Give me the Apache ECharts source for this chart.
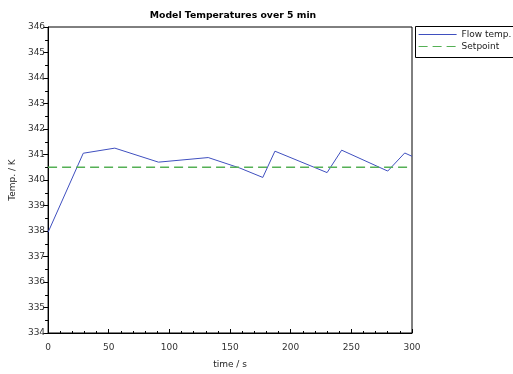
<!DOCTYPE html>
<html><head><meta charset="utf-8">
<script src="https://cdn.jsdelivr.net/npm/echarts@6/dist/echarts.min.js"></script>
<style>html,body{margin:0;padding:0;background:#fff}#c{width:513px;height:374px}</style>
</head><body><div id="c"></div>
<script>
var timeS = [0, 29, 55, 91, 132, 158, 177, 187, 230, 242, 280, 294, 300];
var flowTemp = [337.95, 341.05, 341.25, 340.7, 340.88, 340.47, 340.1, 341.13, 340.29, 341.17, 340.35, 341.06, 340.93];
var setpointT = [0, 300];
var setpointV = [340.5, 340.5];
var chart = echarts.init(document.getElementById('c'));
var font = '"DejaVu Sans", sans-serif';
chart.setOption({
  animation: false,
  title: {text: 'Model Temperatures over 5 min', left: 228, textAlign: 'center', top: 6,
    textStyle: {fontSize: 9.3, fontWeight: 'bold', color: '#000', fontFamily: font}},
  grid: {left: 46, top: 27, right: 101, bottom: 40, show: true, borderColor: '#000', borderWidth: 1},
  xAxis: {type: 'value', min: 0, max: 300, interval: 50, name: 'time / s', nameLocation: 'middle', nameGap: 27,
    nameTextStyle: {fontSize: 9, color: '#222', fontFamily: font},
    axisLine: {lineStyle: {color: '#000'}}, splitLine: {show: false},
    axisTick: {inside: true, length: 4, lineStyle: {color: '#000'}},
    minorTick: {show: true, splitNumber: 5, length: 2, lineStyle: {color: '#000'}},
    axisLabel: {fontSize: 9, color: '#333', fontFamily: font, margin: 10}},
  yAxis: {type: 'value', min: 334, max: 346, interval: 1, name: 'Temp. / K', nameLocation: 'middle', nameGap: 30,
    nameTextStyle: {fontSize: 9, color: '#222', fontFamily: font},
    axisLine: {show: true, lineStyle: {color: '#000'}}, splitLine: {show: false},
    axisTick: {show: true, length: 5, lineStyle: {color: '#000'}},
    minorTick: {show: true, splitNumber: 2, length: 3, lineStyle: {color: '#000'}},
    axisLabel: {fontSize: 9, color: '#333', fontFamily: font, margin: 3}},
  legend: {left: 418, top: 30, padding: 0, orient: 'vertical', itemWidth: 38, itemHeight: 10, itemGap: 3,
    itemStyle: {opacity: 0}, lineStyle: {width: 1.2},
    textStyle: {fontSize: 9, color: '#222', fontFamily: font, padding: [0, 0, 0, 0]}, data: ['Flow temp.', 'Setpoint']},
  graphic: [{type: 'rect', shape: {x: 415.5, y: 26.5, width: 110, height: 31}, style: {fill: 'none', stroke: '#000', lineWidth: 1}}],
  series: [
    {name: 'Flow temp.', type: 'line', symbol: 'none', data: timeS.map(function(t, i){return [t, flowTemp[i]];}),
      lineStyle: {color: '#3f4fbf', width: 1}, itemStyle: {color: '#3f4fbf'}},
    {name: 'Setpoint', type: 'line', symbol: 'none', data: setpointT.map(function(t, i){return [t, setpointV[i]];}),
      lineStyle: {color: '#55b055', width: 1.5, type: [9, 5]}, itemStyle: {color: '#55b055'}}
  ]
});
</script></body></html>
